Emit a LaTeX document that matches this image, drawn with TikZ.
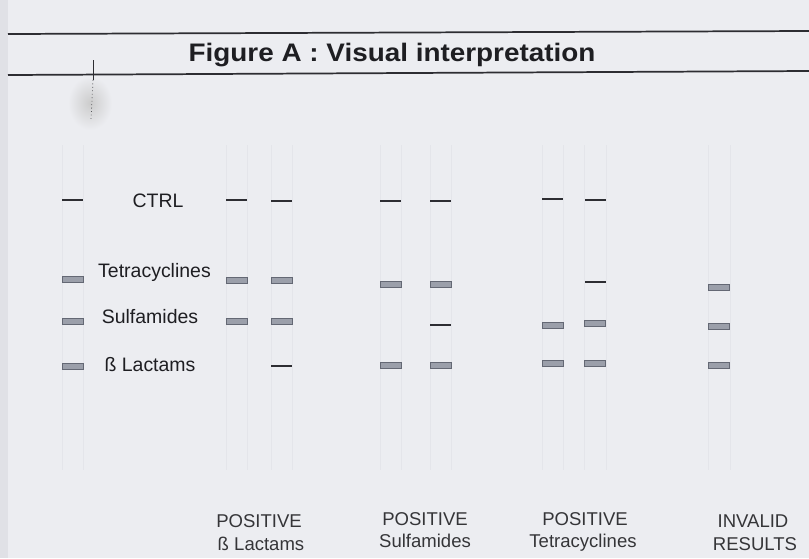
\documentclass[tikz,border=0pt]{standalone}
\usepackage{fontspec}
\usepackage{graphicx}
\setmainfont{Liberation Sans}
\definecolor{bg}{RGB}{236,237,241}
\definecolor{edge}{RGB}{224,225,230}
\definecolor{ink}{RGB}{30,30,34}
\definecolor{lineink}{RGB}{45,45,50}
\definecolor{bandfill}{RGB}{155,159,170}
\definecolor{banddraw}{RGB}{100,104,116}
\definecolor{stripc}{RGB}{228,229,234}
\tikzset{
  band/.style={rectangle, inner sep=0pt, minimum width=15.75pt, minimum height=4.4pt,
               fill=bandfill, draw=banddraw, line width=0.5pt},
  ctrlline/.style={rectangle, inner sep=0pt, minimum width=15.75pt, minimum height=1.4pt,
               fill=lineink},
  legend/.style={anchor=base, inner sep=0pt, text=ink, font=\fontsize{14.6}{17}\selectfont},
  result/.style={anchor=base, inner sep=0pt, text=ink!90, font=\fontsize{13.9}{16}\selectfont},
  strip/.style={draw=stripc, line width=0.5pt},
  rule/.style={draw=lineink, line width=1.3pt}
}
\begin{document}
\begin{tikzpicture}[x=0.75pt,y=-0.75pt]
\useasboundingbox (0,0) rectangle (809,558);
\fill[bg] (0,0) rectangle (809,558);
\fill[edge] (0,0) rectangle (8,558);
% smudge
\shade[inner color=gray!40, outer color=bg] (90,103) ellipse (22 and 27);
\draw[lineink, line width=0.6pt] (93,60) -- (93,80);
\draw[lineink!80, line width=0.6pt, dotted] (93,80) -- (91,120);
% rules
\draw[rule] (8,34) -- (809,31);
\draw[rule] (8,75) -- (809,71);
\node[anchor=base, inner sep=0pt, text=ink, font=\fontsize{19}{23}\selectfont\bfseries] (title) at (392,61) {\scalebox{1.1}[1]{Figure A : Visual interpretation}};
% faint strips
\foreach \a/\b in {62/83,226/247,271/292,380/401,430/451,542/563,584/606,708/730}{
  \draw[strip] (\a,145) -- (\a,470);
  \draw[strip] (\b,145) -- (\b,470);
}
% legend column
\node[ctrlline] (l0) at (72.5,200) {};
\node[band] (l1) at (72.5,279) {};
\node[band] (l2) at (72.5,321) {};
\node[band] (l3) at (72.5,366) {};
\node[legend] (tctrl) at (158,207) {CTRL};
\node[legend] (ttet) at (154.5,277) {Tetracyclines};
\node[legend] (tsul) at (150,323) {Sulfamides};
\node[legend] (tlac) at (150,371) {ß Lactams};
% column 1
\node[ctrlline] (a0) at (236.5,200) {};
\node[band] (a1) at (236.5,280) {};
\node[band] (a2) at (236.5,321) {};
% column 2
\node[ctrlline] (b0) at (281.5,201) {};
\node[band] (b1) at (281.5,280) {};
\node[band] (b2) at (281.5,321) {};
\node[ctrlline] (b3) at (281.5,366) {};
% column 3
\node[ctrlline] (c0) at (390.5,201) {};
\node[band] (c1) at (390.5,284) {};
\node[band] (c3) at (390.5,365) {};
% column 4
\node[ctrlline] (d0) at (440.5,201) {};
\node[band] (d1) at (440.5,284) {};
\node[ctrlline] (d2) at (440.5,325) {};
\node[band] (d3) at (440.5,365) {};
% column 5
\node[ctrlline] (e0) at (552.5,199) {};
\node[band] (e2) at (552.5,325) {};
\node[band] (e3) at (552.5,363) {};
% column 6
\node[ctrlline] (f0) at (595,200) {};
\node[ctrlline] (f1) at (595,282) {};
\node[band] (f2) at (595,323) {};
\node[band] (f3) at (595,363) {};
% column 7
\node[band] (g1) at (719,287) {};
\node[band] (g2) at (719,326) {};
\node[band] (g3) at (719,365) {};
% results
\node[result] (r1a) at (259,527) {POSITIVE};
\node[result] (r1b) at (261,550) {ß Lactams};
\node[result] (r2a) at (425,525) {POSITIVE};
\node[result] (r2b) at (425,547) {Sulfamides};
\node[result] (r3a) at (585,525) {POSITIVE};
\node[result] (r3b) at (583,547) {Tetracyclines};
\node[result] (r4a) at (753,527) {INVALID};
\node[result] (r4b) at (755,550) {RESULTS};
\end{tikzpicture}
\end{document}
